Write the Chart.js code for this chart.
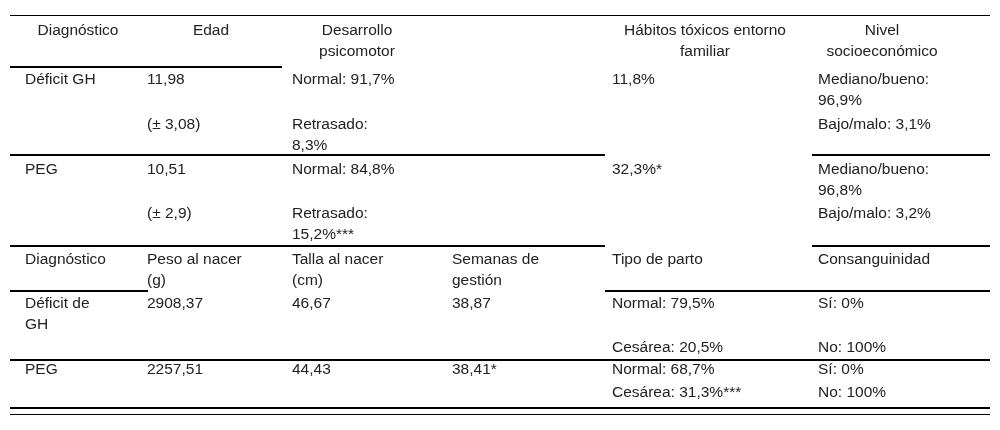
<!DOCTYPE html>
<html><head><meta charset="utf-8">
<script src="https://cdn.jsdelivr.net/npm/chart.js@4"></script>
<style>html,body{margin:0;padding:0;background:#fff}#w{width:1000px;height:430px}</style>
</head><body><div id="w"><canvas id="c"></canvas></div>
<script>
// Table content
const header1 = [["Diagnóstico"],["Edad"],["Desarrollo","psicomotor"],[""],["Hábitos tóxicos entorno","familiar"],["Nivel","socioeconómico"]];
const header1Center = [78, 211, 357, 0, 705, 882];
const cellsTop = [
  {c:0,y:80,t:"Déficit GH"},{c:1,y:80,t:"11,98"},{c:2,y:80,t:"Normal: 91,7%"},{c:4,y:80,t:"11,8%"},{c:5,y:80,t:"Mediano/bueno:"},{c:5,y:101,t:"96,9%"},
  {c:1,y:125,t:"(± 3,08)"},{c:2,y:125,t:"Retrasado:"},{c:2,y:146,t:"8,3%"},{c:5,y:125,t:"Bajo/malo: 3,1%"},
  {c:0,y:170,t:"PEG"},{c:1,y:170,t:"10,51"},{c:2,y:170,t:"Normal: 84,8%"},{c:4,y:170,t:"32,3%*"},{c:5,y:170,t:"Mediano/bueno:"},{c:5,y:191,t:"96,8%"},
  {c:1,y:214,t:"(± 2,9)"},{c:2,y:214,t:"Retrasado:"},{c:2,y:235,t:"15,2%***"},{c:5,y:214,t:"Bajo/malo: 3,2%"}
];
const header2 = [["Diagnóstico"],["Peso al nacer","(g)"],["Talla al nacer","(cm)"],["Semanas de","gestión"],["Tipo de parto"],["Consanguinidad"]];
const cellsBottom = [
  {c:0,y:304,t:"Déficit de"},{c:0,y:325,t:"GH"},{c:1,y:304,t:"2908,37"},{c:2,y:304,t:"46,67"},{c:3,y:304,t:"38,87"},{c:4,y:304,t:"Normal: 79,5%"},{c:5,y:304,t:"Sí: 0%"},
  {c:4,y:348,t:"Cesárea: 20,5%"},{c:5,y:348,t:"No: 100%"},
  {c:0,y:370,t:"PEG"},{c:1,y:370,t:"2257,51"},{c:2,y:370,t:"44,43"},{c:3,y:370,t:"38,41*"},{c:4,y:370,t:"Normal: 68,7%"},{c:5,y:370,t:"Sí: 0%"},
  {c:4,y:393,t:"Cesárea: 31,3%***"},{c:5,y:393,t:"No: 100%"}
];
const colX = [25, 147, 292, 452, 612, 818];
const rules = [
  [10,990,15.5,1],[10,282,67,2],[10,605,155,2],[812,990,155,2],[10,605,246,2],[812,990,246,2],
  [10,148,291,2],[605,990,291,2],[10,990,360,2],[10,990,408,2],[10,990,414.5,1]
];
const tablePlugin = {
  id:'table',
  afterDraw(chart){
    const ctx = chart.ctx;
    ctx.save();
    ctx.fillStyle = '#fff'; ctx.fillRect(0,0,1000,430);
    ctx.fillStyle = '#222';
    ctx.font = '15.5px "Liberation Sans", Arial, sans-serif';
    ctx.textBaseline = 'middle';
    ctx.textAlign = 'center';
    header1.forEach((lines,i)=>lines.forEach((t,j)=>{ if(t) ctx.fillText(t, header1Center[i], 31+j*21); }));
    ctx.textAlign = 'left';
    cellsTop.forEach(d=>ctx.fillText(d.t, colX[d.c], d.y));
    header2.forEach((lines,i)=>lines.forEach((t,j)=>ctx.fillText(t, colX[i], 260+j*21)));
    cellsBottom.forEach(d=>ctx.fillText(d.t, colX[d.c], d.y));
    ctx.strokeStyle = '#000';
    rules.forEach(r=>{ ctx.lineWidth=r[3]; ctx.beginPath(); ctx.moveTo(r[0],r[2]); ctx.lineTo(r[1],r[2]); ctx.stroke(); });
    ctx.restore();
  }
};
new Chart(document.getElementById('c'), {
  type:'bar',
  data:{labels:[], datasets:[{data:[]}]},
  options:{responsive:true, maintainAspectRatio:false, animation:false, devicePixelRatio:1,
    plugins:{legend:{display:false}, tooltip:{enabled:false}},
    scales:{x:{display:false}, y:{display:false}}},
  plugins:[tablePlugin]
});
</script></body></html>
